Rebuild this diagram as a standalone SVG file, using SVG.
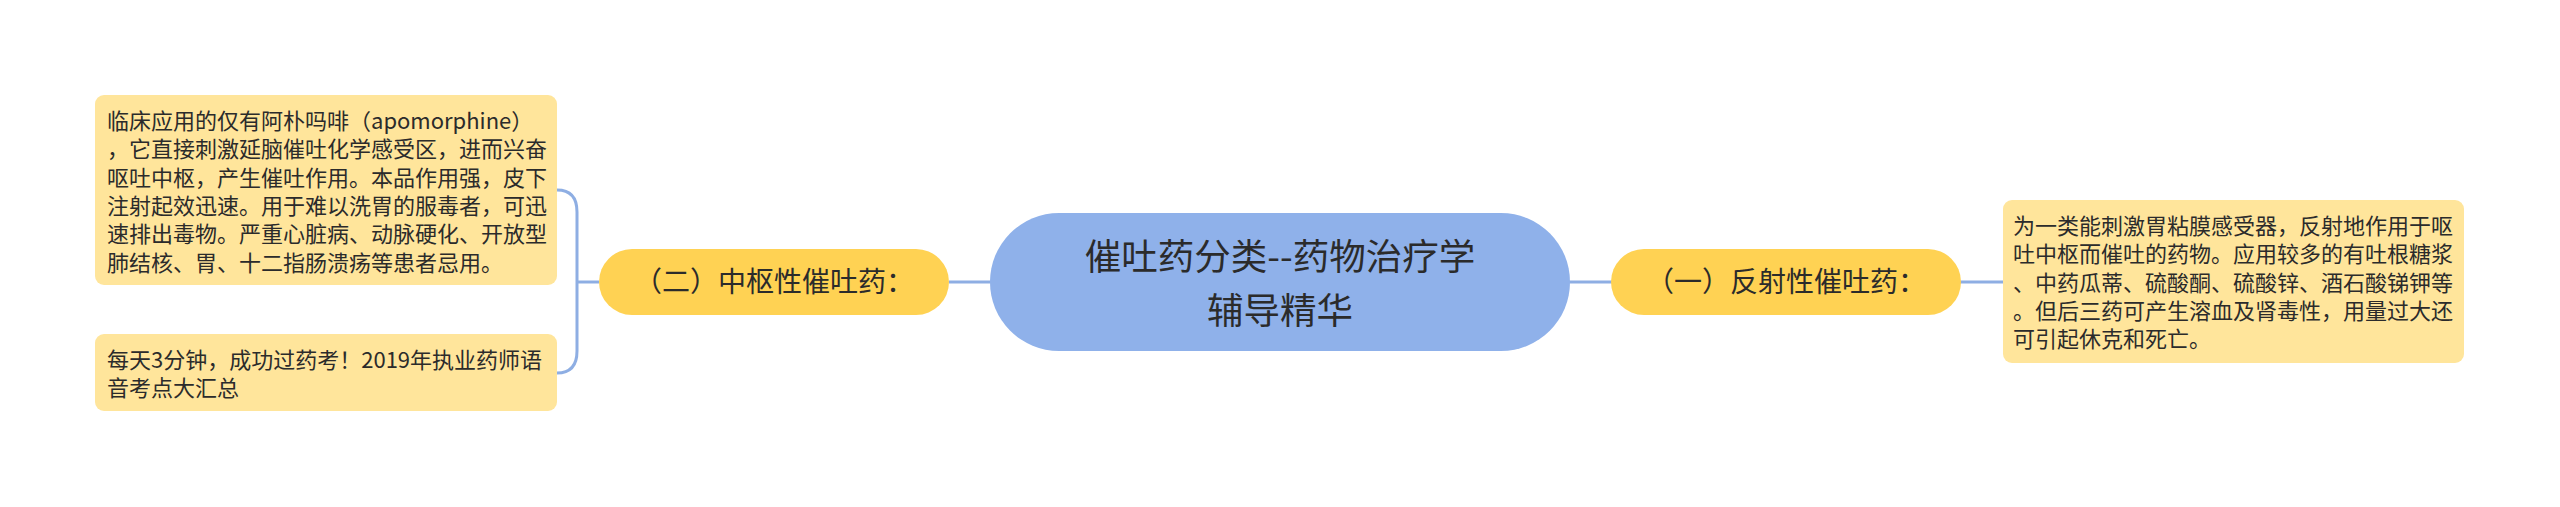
<svg xmlns="http://www.w3.org/2000/svg" width="2560" height="507" viewBox="0 0 2560 507">
<style>
.t{font-family:"Noto Sans CJK SC","Noto Sans",sans-serif;fill:#2b2b2b}
.box{fill:#FFE59B}
.pill{fill:#FFD253}
.root{fill:#8FB1EA}
.ln{fill:none;stroke:#8EAEE3;stroke-width:3}
.bt{font-size:22px}
.pt{font-size:28px}
.rt{font-size:36.5px}
</style>
<rect width="2560" height="507" fill="#ffffff"/>
<g id="connectors">
<path class="ln" d="M949,282 L991,282"/>
<path class="ln" d="M1569,282 L1612,282"/>
<path class="ln" d="M1960,282 L2004,282"/>
<path class="ln" d="M599,282 L577,282"/>
<path class="ln" d="M557,190 Q577,190 577,212 L577,351 Q577,373 557,373"/>
</g>
<g id="root">
<rect class="root" x="990" y="213" width="580" height="138" rx="69"/>
<text class="t rt" x="1280" y="270" text-anchor="middle">催吐药分类--药物治疗学</text>
<text class="t rt" x="1280" y="323.5" text-anchor="middle">辅导精华</text>
</g>
<g id="central">
<rect class="pill" x="599" y="249" width="350" height="66" rx="33"/>
<text class="t pt" x="774" y="292" text-anchor="middle">（二）中枢性催吐药：</text>
</g>
<g id="reflex">
<rect class="pill" x="1611" y="249" width="350" height="66" rx="33"/>
<text class="t pt" x="1786" y="292" text-anchor="middle">（一）反射性催吐药：</text>
</g>
<g id="apomorphine">
<rect class="box" x="95" y="95" width="462" height="190" rx="9"/>
<text class="t bt" x="107" y="129">临床应用的仅有阿朴吗啡（apomorphine）</text>
<text class="t bt" x="107" y="157.3">，它直接刺激延脑催吐化学感受区，进而兴奋</text>
<text class="t bt" x="107" y="185.6">呕吐中枢，产生催吐作用。本品作用强，皮下</text>
<text class="t bt" x="107" y="213.9">注射起效迅速。用于难以洗胃的服毒者，可迅</text>
<text class="t bt" x="107" y="242.2">速排出毒物。严重心脏病、动脉硬化、开放型</text>
<text class="t bt" x="107" y="270.5">肺结核、胃、十二指肠溃疡等患者忌用。</text>
</g>
<g id="audio">
<rect class="box" x="95" y="334" width="462" height="77" rx="9"/>
<text class="t bt" x="107" y="368">每天3分钟，成功过药考！2019年执业药师语</text>
<text class="t bt" x="107" y="396.3">音考点大汇总</text>
</g>
<g id="reflex-desc">
<rect class="box" x="2003" y="200" width="461" height="163" rx="9"/>
<text class="t bt" x="2013" y="234">为一类能刺激胃粘膜感受器，反射地作用于呕</text>
<text class="t bt" x="2013" y="262.3">吐中枢而催吐的药物。应用较多的有吐根糖浆</text>
<text class="t bt" x="2013" y="290.6">、中药瓜蒂、硫酸酮、硫酸锌、酒石酸锑钾等</text>
<text class="t bt" x="2013" y="318.9">。但后三药可产生溶血及肾毒性，用量过大还</text>
<text class="t bt" x="2013" y="347.2">可引起休克和死亡。</text>
</g>
</svg>
